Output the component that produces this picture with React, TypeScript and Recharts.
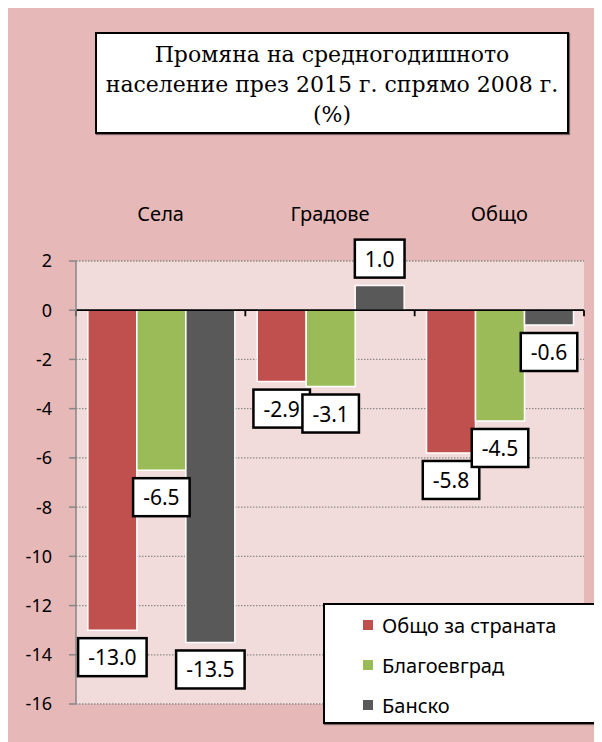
import { BarChart, Bar, XAxis, YAxis, CartesianGrid, ReferenceLine, LabelList, Legend } from 'recharts'

const categories = ['Села', 'Градове', 'Общо']
const countryValues = [-13.0, -2.9, -5.8]
const blagoevgradValues = [-6.5, -3.1, -4.5]
const banskoValues = [-13.5, 1.0, -0.6]
const seriesNames = ['Общо за страната', 'Благоевград', 'Банско']
const yTicks = [2, 0, -2, -4, -6, -8, -10, -12, -14, -16]
const titleLines = ['Промяна на средногодишното', 'население през 2015 г. спрямо 2008 г.', '(%)']

const COLORS = ['#C0504D', '#9BBB59', '#595959']
const FONT = '"Noto Sans", sans-serif'

const data = categories.map((name, i) => ({
  name,
  country: countryValues[i],
  blagoevgrad: blagoevgradValues[i],
  bansko: banskoValues[i],
}))

// rough glyph widths for the value boxes (Noto Sans, 21px)
function textWidth(s: string) {
  let w = 0
  for (const ch of s) w += ch === '-' ? 6.8 : ch === '.' ? 5.7 : 12
  return w
}

function ValueBox(props: any) {
  const { x, y, width, height, value } = props
  const text = Number(value).toFixed(1)
  const w = textWidth(text) + 20
  const h = 38
  const cx = x + width / 2
  const top = Math.min(y, y + height)
  const bottom = Math.max(y, y + height)
  const boxTop = value < 0 ? bottom + 8 : top - 8 - h
  return (
    <g>
      <rect x={cx - w / 2} y={boxTop} width={w} height={h} fill="#fff" stroke="#000" strokeWidth={2.5} />
      <text x={cx} y={boxTop + 27} textAnchor="middle" fontSize={21} fontFamily={FONT} fill="#000">{text}</text>
    </g>
  )
}

function ZeroLine(props: any) {
  const { x1, x2, y1 } = props
  const step = (x2 - x1) / categories.length
  return (
    <g>
      <line x1={x1} x2={x2} y1={y1} y2={y1} stroke="#000" strokeWidth={1.8} />
      {[0, 1, 2, 3].map((i) => (
        <line key={i} x1={x1 + i * step} x2={x1 + i * step} y1={y1} y2={y1 + 6} stroke="#000" strokeWidth={1.8} />
      ))}
    </g>
  )
}

function LegendBox({ payload }: any) {
  const items = [...(payload || [])].sort((a: any, b: any) => seriesNames.indexOf(a.value) - seriesNames.indexOf(b.value))
  return (
    <div style={{
      width: 276, height: 121, boxSizing: 'border-box', background: '#fff',
      border: '2.5px solid #000', boxShadow: '1px 1px 1px rgba(0,0,0,0.45)', paddingTop: 0,
    }}>
      {items.map((p: any) => (
        <div key={p.value} style={{ height: 40, display: 'flex', alignItems: 'center', paddingLeft: 38 }}>
          <span style={{ width: 10, height: 10, background: p.color, display: 'inline-block', marginRight: 9 }} />
          <span style={{ fontSize: 20, fontFamily: FONT, color: '#000' }}>{p.value}</span>
        </div>
      ))}
    </div>
  )
}

export default function App() {
  return (
    <div style={{ position: 'relative', width: 594, height: 734, background: '#E6B9B8', fontFamily: FONT }}>
      <div style={{
        position: 'absolute', left: 87, top: 24, width: 474, height: 102, boxSizing: 'border-box',
        background: '#fff', border: '2.5px solid #000', boxShadow: '1px 1px 1px rgba(0,0,0,0.45)',
        fontFamily: '"DejaVu Serif", serif', fontSize: 22, lineHeight: '30px', textAlign: 'center',
        paddingTop: 6, zIndex: 2, whiteSpace: 'nowrap',
      }}>
        {titleLines.map((l) => <div key={l}>{l}</div>)}
      </div>
      <BarChart width={594} height={734} data={data} margin={{ top: 0, right: 18, bottom: 38, left: 0 }}
        barCategoryGap="7%" barGap={0}>
        <CartesianGrid vertical={false} fill="#F2DCDB" stroke="#8C8C8C" strokeDasharray="1.5 1.5" strokeWidth={1.3} />
        <XAxis dataKey="name" orientation="top" height={253} axisLine={false} tickLine={false}
          tickSize={0} tickMargin={40} tick={{ fill: '#000', fontSize: 20, fontFamily: FONT }} />
        <YAxis width={68} domain={[-16, 2]} ticks={yTicks} interval={0} allowDataOverflow
          stroke="#868686" strokeWidth={1.5} tickSize={7} tickMargin={17}
          tick={{ fill: '#000', fontSize: 18, fontFamily: FONT }} />
        <ReferenceLine y={0} shape={ZeroLine} />
        <Bar dataKey="country" name={seriesNames[0]} fill={COLORS[0]} stroke="#fff" strokeWidth={1.5} isAnimationActive={false}>
          <LabelList dataKey="country" content={ValueBox} />
        </Bar>
        <Bar dataKey="blagoevgrad" name={seriesNames[1]} fill={COLORS[1]} stroke="#fff" strokeWidth={1.5} isAnimationActive={false}>
          <LabelList dataKey="blagoevgrad" content={ValueBox} />
        </Bar>
        <Bar dataKey="bansko" name={seriesNames[2]} fill={COLORS[2]} stroke="#fff" strokeWidth={1.5} isAnimationActive={false}>
          <LabelList dataKey="bansko" content={ValueBox} />
        </Bar>
        <Legend layout="vertical" align="center" verticalAlign="middle" content={LegendBox}
          wrapperStyle={{ position: 'absolute', left: 315, top: 595, width: 276, height: 121 }} />
      </BarChart>
    </div>
  )
}
